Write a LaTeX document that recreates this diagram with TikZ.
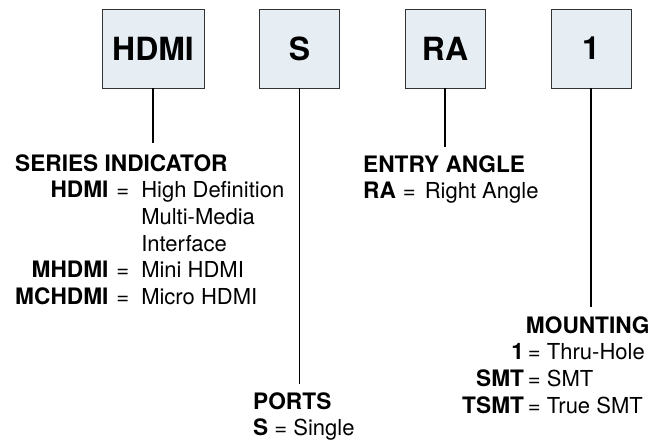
\documentclass[tikz,border=0pt]{standalone}
\usepackage{fontspec}
\setmainfont{TeX Gyre Heros}[BoldFeatures={Scale=1.03}]
\usepackage{array}
\definecolor{boxfill}{HTML}{E6EEF4}
\begin{document}
\begin{tikzpicture}[x=1pt,y=-1pt,
  codebox/.style={draw=black!80,line width=0.8pt,fill=boxfill,minimum width=80pt,minimum height=79pt,inner sep=0pt,font=\fontsize{31}{36}\selectfont\bfseries},
  lead/.style={line width=1.9pt},
  legend/.style={inner sep=0pt,anchor=base west,font=\fontsize{22}{26.7}\selectfont}]
\useasboundingbox (0,0) rectangle (672,442);
\node[codebox,minimum width=102pt] (series) at (153,48.5) {HDMI};
\node[codebox] (ports) at (299.5,48.5) {S};
\node[codebox] (angle) at (445,48.5) {RA};
\node[codebox] (mounting) at (591,48.5) {1};
\node[legend] (serieskey) at (15,171) {\begin{tabular}[t]{@{}r@{\hspace{8pt}}l@{\hspace{12pt}}l@{}}
\multicolumn{3}{@{}l@{}}{\textbf{SERIES INDICATOR}}\\
\textbf{HDMI} & = & High Definition\\
 & & Multi-Media\\
 & & Interface\\
\textbf{MHDMI} & = & Mini HDMI\\
\textbf{MCHDMI} & = & Micro HDMI
\end{tabular}};
\node[legend] (portskey) at (253,409) {\begin{tabular}[t]{@{}l@{}}
\textbf{PORTS}\\
\textbf{S} = Single
\end{tabular}};
\node[legend] (anglekey) at (363,172) {\begin{tabular}[t]{@{}l@{}}
\textbf{ENTRY ANGLE}\\
\textbf{RA}\hspace{7pt}=\hspace{9pt}Right Angle
\end{tabular}};
\node[legend] (mountingkey) at (462,333) {\begin{tabular}[t]{@{}r@{\hspace{4pt}}l@{}}
 & \hspace{-2pt}\textbf{MOUNTING}\\
\textbf{1} & = Thru-Hole\\
\textbf{SMT} & = SMT\\
\textbf{TSMT} & = True SMT
\end{tabular}};
\coordinate (seriesend) at (153,143);
\coordinate (portsend) at (299.5,384);
\coordinate (angleend) at (445,147);
\coordinate (mountingend) at (591,307);
\draw[lead] (series.south) -- (seriesend);
\draw[lead] (ports.south) -- (portsend);
\draw[lead] (angle.south) -- (angleend);
\draw[lead] (mounting.south) -- (mountingend);
\end{tikzpicture}
\end{document}
